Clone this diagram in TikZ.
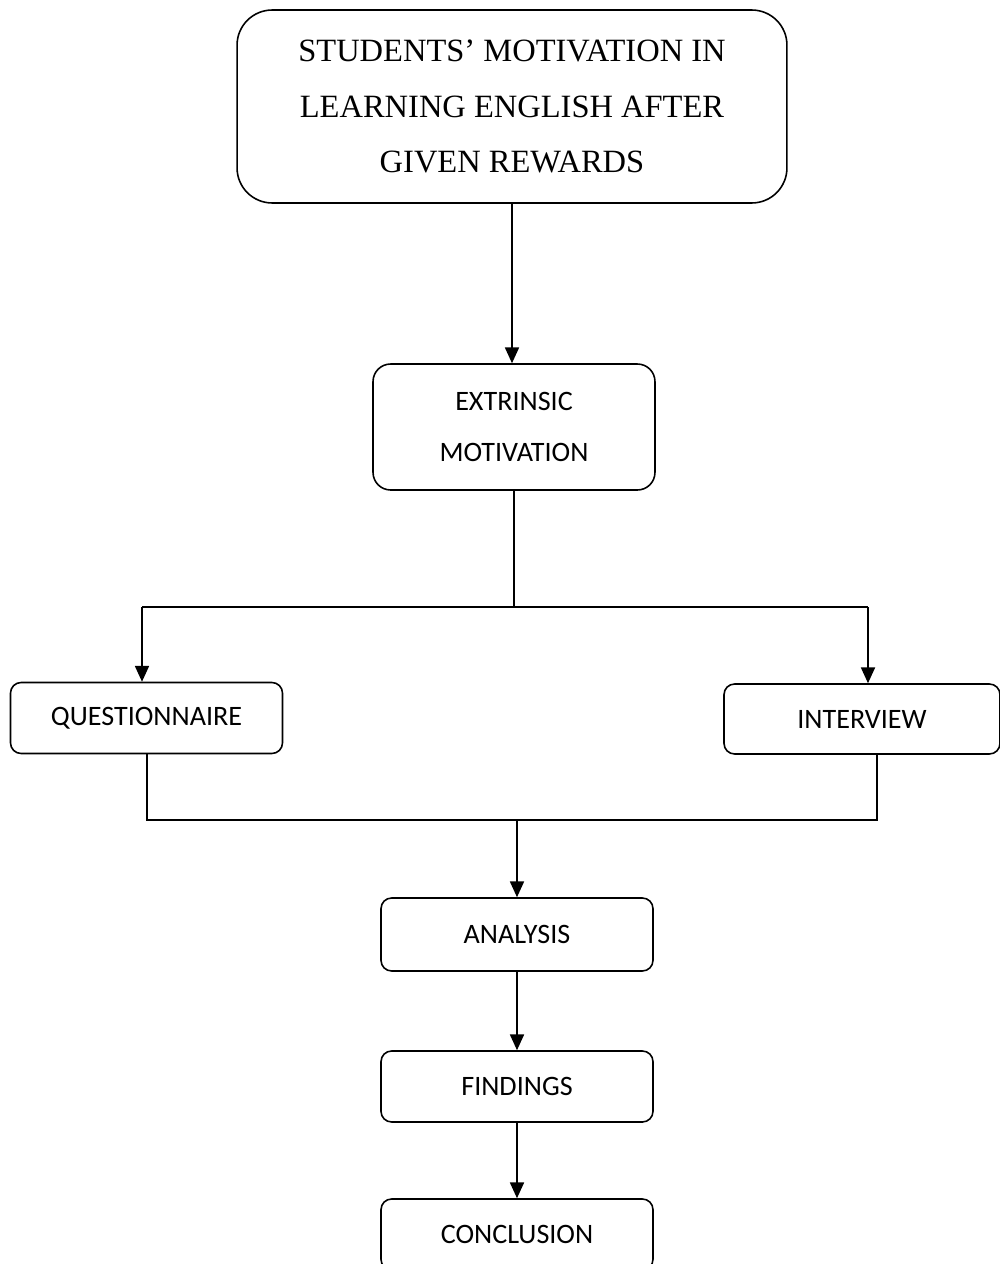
\documentclass[tikz,border=0pt]{standalone}
\usepackage{fontspec}
\setmainfont{Liberation Serif}
\newfontfamily\boxfont{Carlito}
\usetikzlibrary{arrows.meta}

\begin{document}
\begin{tikzpicture}
  [x=0.02cm,y=-0.02cm,line width=0.9pt,
   every node/.style={draw,rectangle,rounded corners=6pt,align=center,inner sep=0pt,
     minimum width=5.44cm,minimum height=1.42cm,font=\boxfont\fontsize{16}{29.5}\selectfont}]
  \tikzstyle{arrow} = [-{Triangle[width=8pt,length=9pt]}]
  \useasboundingbox (0,0) rectangle (1000,1264);

  \node (topic) at (512,106.5) [minimum width=11cm,minimum height=3.86cm,rounded corners=20pt,
    font=\rmfamily\fontsize{18.5}{31.7}\selectfont]
    {STUDENTS’ MOTIVATION IN\\LEARNING ENGLISH AFTER\\GIVEN REWARDS};
  \node (ext) at (514,427) [minimum width=5.64cm,minimum height=2.52cm,rounded corners=10pt]
    {EXTRINSIC\\MOTIVATION};
  \node (quest) at (146.5,718) {QUESTIONNAIRE};
  \node (inter) at (862,719) [minimum width=5.52cm,minimum height=1.4cm] {INTERVIEW};
  \node (ana) at (517,934.5) [minimum height=1.46cm] {ANALYSIS};
  \node (fin) at (517,1086.5) {FINDINGS};
  \node (con) at (517,1234.5) {CONCLUSION};

  \coordinate (split) at (514,607);
  \coordinate (qin) at (142,607);
  \coordinate (iin) at (868,607);
  \coordinate (qout) at (147,820);
  \coordinate (iout) at (877,820);
  \coordinate (merge) at (517,820);

  \draw[arrow] (topic.south) -- (topic.south |- ext.north);
  \draw (ext.south -| split) -- (split);
  \draw (qin) -- (iin);
  \draw[arrow] (qin) -- (qin |- quest.north);
  \draw[arrow] (iin) -- (iin |- inter.north);
  \draw (qout |- quest.south) -- (qout) -- (iout) -- (iout |- inter.south);
  \draw[arrow] (merge) -- (ana.north);
  \foreach \source/\dest in {ana/fin,fin/con}
    \draw[arrow] (\source) -- (\dest);
\end{tikzpicture}
\end{document}
